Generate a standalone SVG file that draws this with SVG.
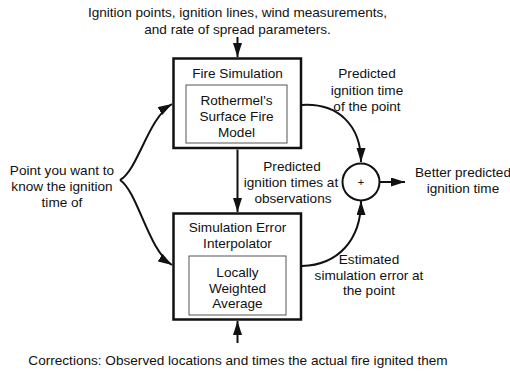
<svg xmlns="http://www.w3.org/2000/svg" width="510" height="373" viewBox="0 0 510 373">
<style>
text{font-family:"Liberation Sans",Arial,sans-serif;font-size:13.6px;fill:#111;text-anchor:middle}
.outer{fill:#fff;stroke:#111;stroke-width:2.5}
.inner{fill:#fff;stroke:#555;stroke-width:1}
.conn{fill:none;stroke:#111;stroke-width:2}
</style>
<defs>
<marker id="ah" markerUnits="userSpaceOnUse" markerWidth="16" markerHeight="10" refX="14" refY="4.5" orient="auto">
<path d="M0,0 L14,4.5 L0,9 z" fill="#111"/>
</marker>
</defs>
<rect width="510" height="373" fill="#fff"/>
<g id="connectors">
<path class="conn" d="M237.5,37 V57" marker-end="url(#ah)"/>
<path class="conn" d="M237.5,149.5 V212" marker-end="url(#ah)"/>
<path class="conn" d="M237.5,343 V321" marker-end="url(#ah)"/>
<path class="conn" d="M120,180 C138,170 148,118 172,104" marker-end="url(#ah)"/>
<path class="conn" d="M120,180 C138,192 148,250 172,265" marker-end="url(#ah)"/>
<path class="conn" d="M302,105 C338,103 361,125 361,162" marker-end="url(#ah)"/>
<path class="conn" d="M302,266 C338,265 361,240 361,201" marker-end="url(#ah)"/>
<path class="conn" d="M379.5,182 H405" marker-end="url(#ah)"/>
</g>
<g id="input-top">
<text x="237.5" y="17">Ignition points, ignition lines, wind measurements,</text>
<text x="237.5" y="33.5">and rate of spread parameters.</text>
</g>
<g id="fire-simulation">
<rect class="outer" x="173.5" y="58.5" width="127.5" height="89.5"/>
<text x="237.5" y="78">Fire Simulation</text>
<rect class="inner" x="186" y="85" width="101" height="58"/>
<text x="236.5" y="105">Rothermel's</text>
<text x="236.5" y="121">Surface Fire</text>
<text x="236.5" y="137">Model</text>
</g>
<g id="error-interpolator">
<rect class="outer" x="173.5" y="213.5" width="127.5" height="106"/>
<text x="237.5" y="232">Simulation Error</text>
<text x="237.5" y="247.5">Interpolator</text>
<rect class="inner" x="189" y="256" width="97" height="59"/>
<text x="237.5" y="277">Locally</text>
<text x="237.5" y="292.5">Weighted</text>
<text x="237.5" y="308">Average</text>
</g>
<g id="sum">
<circle cx="361" cy="182" r="18.5" fill="#fff" stroke="#111" stroke-width="2"/>
<text x="361" y="186" style="font-size:11px">+</text>
</g>
<g id="point-label">
<text x="62" y="175">Point you want to</text>
<text x="62" y="191">know the ignition</text>
<text x="62" y="207">time of</text>
</g>
<g id="label-pred-point">
<text x="367" y="78">Predicted</text>
<text x="367" y="94.5">ignition time</text>
<text x="367" y="111">of the point</text>
</g>
<g id="label-pred-obs">
<text x="292" y="170.5">Predicted</text>
<text x="291" y="187">ignition times at</text>
<text x="293" y="203">observations</text>
</g>
<g id="label-est-error">
<text x="369" y="263.5">Estimated</text>
<text x="369" y="279.5">simulation error at</text>
<text x="369" y="295">the point</text>
</g>
<g id="output">
<text x="463" y="176.5">Better predicted</text>
<text x="463" y="193">ignition time</text>
</g>
<g id="input-bottom">
<text x="238" y="364.5">Corrections: Observed locations and times the actual fire ignited them</text>
</g>
</svg>
